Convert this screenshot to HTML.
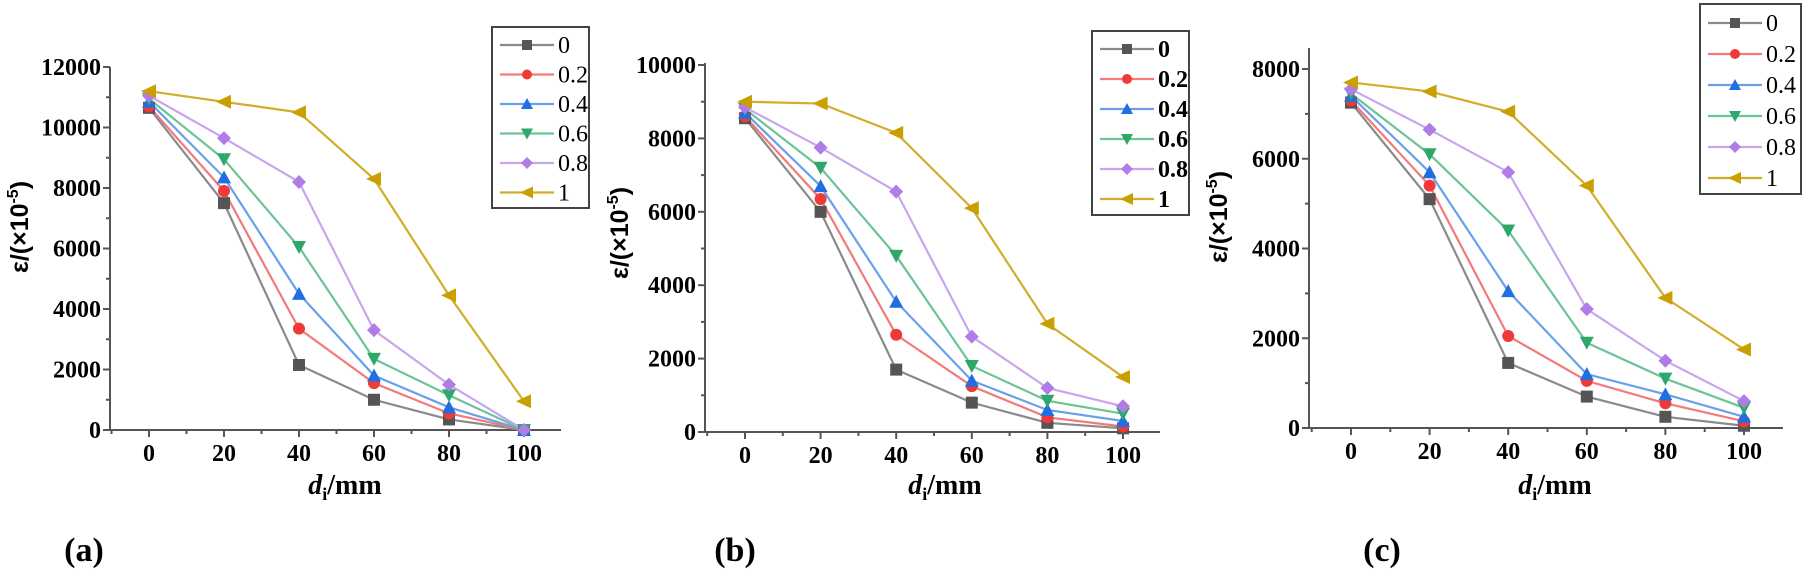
<!DOCTYPE html>
<html><head><meta charset="utf-8"><style>
html,body{margin:0;padding:0;background:#fff;}
svg{display:block;}
</style></head><body>
<svg id="s" width="1807" height="574" xmlns="http://www.w3.org/2000/svg"></svg>
<script>
const S=document.getElementById('s');let h='';
const cols=['#555555','#f03a3a','#1f6fe0','#2ea86a','#b07ce6','#c9a000'];
const lcols=['#8a8a8a','#f27a7a','#6aa0ea','#6cc395','#c7a6ee','#d1ad2a'];
const names=['0','0.2','0.4','0.6','0.8','1'];
function marker(i,x,y,s){s=s||6;const c=cols[i];
 if(i==0)return `<rect x="${x-s}" y="${y-s}" width="${2*s}" height="${2*s}" fill="${c}"/>`;
 if(i==1)return `<circle cx="${x}" cy="${y}" r="${s}" fill="${c}"/>`;
 if(i==2)return `<polygon points="${x},${y-s-1} ${x+s+1},${y+s} ${x-s-1},${y+s}" fill="${c}"/>`;
 if(i==3)return `<polygon points="${x},${y+s+1} ${x+s+1},${y-s} ${x-s-1},${y-s}" fill="${c}"/>`;
 if(i==4)return `<polygon points="${x},${y-s-1} ${x+s+1},${y} ${x},${y+s+1} ${x-s-1},${y}" fill="${c}"/>`;
 return `<polygon points="${x-s-2},${y} ${x+s+1},${y-s-1} ${x+s+1},${y+s+1}" fill="${c}"/>`;}
function panel(p){
 const X=v=>p.x0+(p.x100-p.x0)*v/100, Y=v=>p.y0+(p.ytop-p.y0)*v/p.vtop;
 // axes
 h+=`<line x1="${p.ax}" y1="${p.y0}" x2="${p.ax}" y2="${p.atop}" stroke="#555" stroke-width="2"/>`;
 h+=`<line x1="${p.ax}" y1="${p.y0}" x2="${p.aright}" y2="${p.y0}" stroke="#555" stroke-width="2"/>`;
 for(let v=0;v<=p.vmax;v+=p.step/2){const y=Y(v);const maj=(v%p.step==0);
  h+=`<line x1="${p.ax-(maj?7:4)}" y1="${y}" x2="${p.ax}" y2="${y}" stroke="#555" stroke-width="2"/>`;
  if(maj)h+=`<text x="${p.ax-9}" y="${y+8}" text-anchor="end" font-family="Liberation Serif,serif" font-weight="bold" font-size="24">${v}</text>`;}
 for(let v=-10;v<=110;v+=10){const x=X(v);if(x<p.ax||x>p.aright)continue;const maj=(v%20==0&&v>=0&&v<=100);
  h+=`<line x1="${x}" y1="${p.y0}" x2="${x}" y2="${p.y0+(maj?7:4)}" stroke="#555" stroke-width="2"/>`;
  if(maj)h+=`<text x="${x}" y="${p.y0+31}" text-anchor="middle" font-family="Liberation Serif,serif" font-weight="bold" font-size="24">${v}</text>`;}
 // y label
 h+=`<text transform="translate(${p.ylx},${p.yly}) rotate(-90)" text-anchor="middle" font-family="Liberation Sans,sans-serif" font-size="25" font-weight="bold">ε/(×10<tspan dy="-10" font-size="16">-5</tspan><tspan dy="10">)</tspan></text>`;
 h+=`<text x="${p.xlx}" y="494" text-anchor="middle" font-family="Liberation Serif,serif" font-weight="bold" font-size="28"><tspan font-style="italic">d</tspan><tspan dy="6" font-size="18">i</tspan><tspan dy="-6">/mm</tspan></text>`;
 h+=`<text x="${p.plx}" y="561" text-anchor="middle" font-family="Liberation Serif,serif" font-weight="bold" font-size="34">${p.pl}</text>`;
 // series
 p.d.forEach((s,i)=>{h+=`<polyline fill="none" stroke="${lcols[i]}" stroke-width="2.2" points="${s.map((v,k)=>X(k*20)+','+Y(v)).join(' ')}"/>`;});
 p.d.forEach((s,i)=>{s.forEach((v,k)=>{h+=marker(i,X(k*20),Y(v));});});
 // legend
 const L=p.leg;h+=`<rect x="${L.x}" y="${L.y}" width="${L.w}" height="${L.h}" fill="#fff" stroke="#444" stroke-width="2"/>`;
 for(let i=0;i<6;i++){const y=L.y+L.r0+i*L.dy;
  h+=`<line x1="${L.x+8}" y1="${y}" x2="${L.x+62}" y2="${y}" stroke="${lcols[i]}" stroke-width="2.2"/>`+marker(i,L.x+35,y,5);
  h+=`<text x="${L.x+66}" y="${y+8}" font-family="Liberation Serif,serif" font-size="24" font-weight="${p.lb?'bold':'normal'}">${names[i]}</text>`;}
}
panel({x0:149,x100:524,ax:110,aright:561,y0:430,ytop:67,vtop:12000,vmax:12000,step:2000,atop:67,
 ylx:28,yly:227,xlx:345,plx:84,pl:'(a)',lb:false,
 leg:{x:492,y:27,w:97,h:181,r0:18,dy:29.5},
 d:[[10650,7500,2150,1000,350,0],[10700,7900,3350,1550,550,0],[10850,8350,4500,1800,750,0],[10950,8950,6050,2350,1150,0],[11050,9650,8200,3300,1500,0],[11200,10850,10500,8300,4450,950]]});
panel({x0:745,x100:1123,ax:705,aright:1160,y0:432,ytop:65,vtop:10000,vmax:10000,step:2000,atop:63,
 ylx:628,yly:233,xlx:945,plx:735,pl:'(b)',lb:true,
 leg:{x:1092,y:31,w:97,h:184,r0:18,dy:30},
 d:[[8550,6000,1700,800,250,100],[8600,6350,2650,1250,400,150],[8700,6700,3550,1400,600,300],[8800,7200,4800,1800,850,500],[8850,7750,6550,2600,1200,700],[9000,8950,8150,6100,2950,1500]]});
panel({x0:1351,x100:1744,ax:1309,aright:1783,y0:428,ytop:69,vtop:8000,vmax:8000,step:2000,atop:48,
 ylx:1227,yly:217,xlx:1555,plx:1382,pl:'(c)',lb:false,
 leg:{x:1700,y:4,w:101,h:190,r0:19,dy:31},
 d:[[7250,5100,1450,700,250,50],[7300,5400,2050,1050,550,150],[7400,5700,3050,1200,750,250],[7450,6100,4400,1900,1100,450],[7550,6650,5700,2650,1500,600],[7700,7500,7050,5400,2900,1750]]});
S.innerHTML=h;
</script>
</body></html>
